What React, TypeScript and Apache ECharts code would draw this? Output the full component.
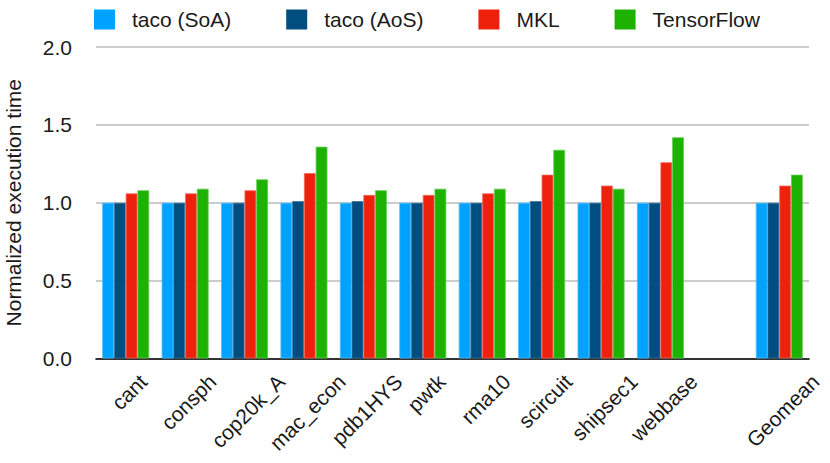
import React, { useEffect, useRef } from "react";
import * as echarts from "echarts";

const categories = ["cant", "consph", "cop20k_A", "mac_econ", "pdb1HYS", "pwtk", "rma10", "scircuit", "shipsec1", "webbase", "", "Geomean"];
const seriesNames = ["taco (SoA)", "taco (AoS)", "MKL", "TensorFlow"];
const tacoSoA = [1.0, 1.0, 1.0, 1.0, 1.0, 1.0, 1.0, 1.0, 1.0, 1.0, null, 1.0];
const tacoAoS = [1.0, 1.0, 1.0, 1.01, 1.01, 1.0, 1.0, 1.01, 1.0, 1.0, null, 1.0];
const mkl = [1.06, 1.06, 1.08, 1.19, 1.05, 1.05, 1.06, 1.18, 1.11, 1.26, null, 1.11];
const tensorFlow = [1.08, 1.09, 1.15, 1.36, 1.08, 1.09, 1.09, 1.34, 1.09, 1.42, null, 1.18];
const yTicks = [0, 0.5, 1.0, 1.5, 2.0];

const colors = ["#00A2FF", "#004D80", "#EE220C", "#1DB100"];
const borderColors = ["#4dbdff", "#33719a", "#f4645a", "#5fcb52"];
const FONT = "'Liberation Sans', 'Helvetica Neue', Helvetica, Arial, sans-serif";
const FS = 21;
const TEXT_COLOR = "#1a1a1a";

function measure(text: string): number {
  const c = document.createElement("canvas");
  const ctx = c.getContext("2d");
  if (!ctx) return text.length * FS * 0.5;
  ctx.font = `${FS}px 'Liberation Sans'`;
  return ctx.measureText(text).width;
}

export default function App() {
  const ref = useRef<HTMLDivElement>(null);
  useEffect(() => {
    document.body.style.margin = "0";
    if (!ref.current) return;
    const chart = echarts.init(ref.current, undefined, { renderer: "svg" });
    const all = [tacoSoA, tacoAoS, mkl, tensorFlow];
    const labelData = categories.map((c, i) => [i, 0]);
    const S = Math.SQRT1_2;
    chart.setOption({
      animation: false,
      textStyle: { fontFamily: FONT },
      legend: {
        left: 89,
        top: 4,
        itemWidth: 21,
        itemHeight: 20,
        itemGap: 55,
        icon: "rect",
        itemStyle: { borderWidth: 0 },
        textStyle: { fontSize: FS, color: TEXT_COLOR, fontFamily: FONT, padding: [0, 0, 0, 12] },
        data: seriesNames,
      },
      grid: { left: 96, right: 21, top: 47, bottom: 104.5, containLabel: false, outerBoundsMode: "none" },
      xAxis: {
        type: "category",
        data: categories,
        axisLine: { lineStyle: { color: "#000", width: 1.6 } },
        axisTick: { show: false },
        axisLabel: { show: false },
      },
      yAxis: {
        type: "value",
        min: yTicks[0],
        max: yTicks[yTicks.length - 1],
        interval: 0.5,
        name: "Normalized execution time",
        nameLocation: "middle",
        nameGap: 72,
        nameTextStyle: { fontSize: FS, color: TEXT_COLOR, fontFamily: FONT },
        axisLine: { show: false },
        axisTick: { show: false },
        axisLabel: {
          margin: 24,
          fontSize: FS,
          color: TEXT_COLOR,
          fontFamily: FONT,
          formatter: (v: number) => v.toFixed(1),
        },
        splitLine: { lineStyle: { color: "#bbbbbb", width: 1.6 } },
      },
      series: [
        ...seriesNames.map((n, i) => ({
          name: n,
          type: "bar",
          data: all[i],
          barGap: "0%",
          barCategoryGap: "21%",
          itemStyle: { color: colors[i], borderColor: borderColors[i], borderWidth: 0.8 },
        })),
        {
          type: "custom",
          name: "xlabels",
          data: labelData,
          clip: false,
          silent: true,
          renderItem: (params: any, api: any) => {
            const idx = api.value(0);
            const text = categories[idx];
            if (!text) return null;
            const p = api.coord([idx, 0]);
            const L = measure(text);
            return {
              type: "text",
              x: p[0] + 3.5,
              y: p[1] + 19.5 + (S * L) / 2,
              rotation: Math.PI / 4,
              style: {
                text,
                fontSize: FS,
                fontFamily: FONT,
                fill: TEXT_COLOR,
                align: "center",
                verticalAlign: "middle",
              },
            };
          },
        },
      ],
    });
    return () => chart.dispose();
  }, []);
  return <div ref={ref} style={{ width: 830, height: 463 }} />;
}
